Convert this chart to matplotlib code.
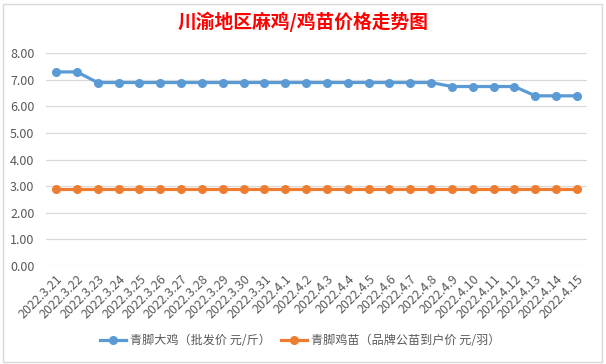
import matplotlib
matplotlib.use("Agg")
import matplotlib.pyplot as plt
from matplotlib.patches import Rectangle

plt.rcParams['font.family'] = ['Noto Sans CJK SC', 'DejaVu Sans']

dates = ["2022.3.21", "2022.3.22", "2022.3.23", "2022.3.24", "2022.3.25", "2022.3.26",
         "2022.3.27", "2022.3.28", "2022.3.29", "2022.3.30", "2022.3.31", "2022.4.1",
         "2022.4.2", "2022.4.3", "2022.4.4", "2022.4.5", "2022.4.6", "2022.4.7",
         "2022.4.8", "2022.4.9", "2022.4.10", "2022.4.11", "2022.4.12", "2022.4.13",
         "2022.4.14", "2022.4.15"]
big_chicken = [7.3, 7.3, 6.9, 6.9, 6.9, 6.9, 6.9, 6.9, 6.9, 6.9, 6.9, 6.9, 6.9, 6.9,
               6.9, 6.9, 6.9, 6.9, 6.9, 6.75, 6.75, 6.75, 6.75, 6.4, 6.4, 6.4]
chick = [2.9] * 26
yticks = [0, 1, 2, 3, 4, 5, 6, 7, 8]

title = "川渝地区麻鸡/鸡苗价格走势图"
label1 = "青脚大鸡（批发价 元/斤）"
label2 = "青脚鸡苗（品牌公苗到户价 元/羽）"

W, H = 606, 364
fig = plt.figure(figsize=(W / 100, H / 100), dpi=100)
fig.patch.set_facecolor("white")

ax = fig.add_axes([45.6 / W, 1 - 266 / H, (587.4 - 45.6) / W, (266 - 53.3) / H])
x = list(range(len(dates)))
blue = "#5B9BD5"
orange = "#ED7D31"
ax.plot(x, big_chicken, color=blue, lw=2.3, marker='o', ms=5.5, label=label1, zorder=3)
ax.plot(x, chick, color=orange, lw=2.3, marker='o', ms=5.5, label=label2, zorder=3)

ax.set_xlim(-0.5, len(dates) - 0.5)
ax.set_ylim(0, 8)
ax.set_yticks(yticks)
ax.set_yticklabels([f"{v:.2f}" for v in yticks])
ax.yaxis.grid(True, color="#D9D9D9", lw=0.9)
ax.set_axisbelow(True)
for s in ax.spines.values():
    s.set_visible(False)
ax.set_xticks(x)
ax.set_xticklabels(dates, rotation=45, ha='right', va='top', rotation_mode='anchor')
ax.tick_params(axis='both', length=0, colors="#595959", labelsize=9)
ax.tick_params(axis='y', pad=8)
ax.tick_params(axis='x', pad=5)

fig.text(303 / W, 1 - 22 / H, title, color="red", fontsize=13.5, ha='center', va='center',
         fontweight='bold')

leg = fig.legend(loc='center', bbox_to_anchor=(300 / W, 1 - 341 / H), ncol=2, frameon=False,
                 fontsize=8.7, handlelength=2.2, columnspacing=0.8, handletextpad=0.3)
for t in leg.get_texts():
    t.set_color("#595959")

fig.patches.append(Rectangle((3 / W, 2 / H), (602 - 3) / W, (360 - 2) / H,
                             transform=fig.transFigure, fill=False, ec="#D9D9D9", lw=1))

fig.savefig("out.png", dpi=100)
